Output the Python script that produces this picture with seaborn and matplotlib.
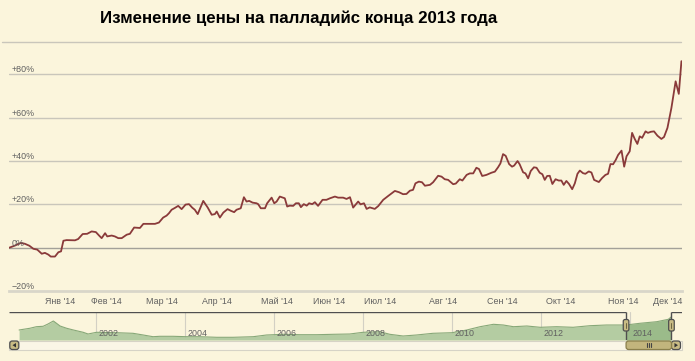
import numpy as np
import pandas as pd
import matplotlib
matplotlib.use("Agg")
import matplotlib.pyplot as plt
import matplotlib.transforms as mtransforms
from matplotlib.patches import FancyBboxPatch, Rectangle, Polygon
from matplotlib.lines import Line2D
import seaborn as sns

# --- data: % change of palladium price since end of 2013 (by trading session) ---
session = [0, 2.2, 4.3, 5.9, 7.6, 9.1, 10.6, 12.3, 13.5, 14.8, 15.7, 17.3, 18.6, 19.6, 20.5, 21.7, 24.9, 26.1, 27.8, 29.5,
           31.2, 32.8, 34.1, 35.0, 36.3, 37.1, 38.8, 40.0, 41.3, 42.6, 44.5, 45.7, 47.3, 49.5, 50.8, 52.7, 55.2, 56.7, 58.3, 59.6,
           60.5, 61.5, 62.8, 64.0, 65.3, 66.8, 68.1, 69.3, 70.3, 71.4, 73.5, 75.2, 76.7, 77.9, 78.6, 79.8, 81.1, 82.7, 84.0, 85.2,
           86.1, 87.7, 88.9, 89.9, 90.9, 92.2, 93.7, 94.3, 95.3, 96.9, 97.7, 99.4, 100.4, 101.3, 102.5, 104.4, 105.3, 106.3, 107.6, 108.6,
           109.7, 110.5, 111.6, 112.7, 113.6, 114.8, 115.8, 117.0, 118.7, 120.2, 121.5, 123.4, 124.6, 126.5, 127.8, 129.1, 130.3, 132.2, 133.1, 134.4,
           135.4, 136.6, 138.5, 139.8, 141.7, 143.6, 146.1, 147.7, 149.2, 150.5, 151.8, 153.0, 153.9, 155.2, 156.4, 157.5, 159.4, 160.6, 162.5, 163.8,
           165.0, 166.3, 168.2, 169.2, 170.7, 171.7, 173.3, 174.5, 175.8, 177.0, 178.0, 179.2, 180.8, 182.7, 184.0, 185.2, 186.1, 187.1, 188.1, 189.4,
           190.5, 191.3, 192.6, 193.4, 194.7, 195.6, 196.6, 197.6, 198.8, 199.8, 201.0, 202.0, 202.9, 203.8, 204.8, 205.8, 207.0, 208.2, 209.2, 210.1,
           211.1, 212.1, 213.3, 214.3, 215.3, 216.2, 217.4, 218.3, 219.6, 220.6, 221.6, 223.4, 224.6, 225.9, 226.9, 227.8, 228.8, 229.8, 230.7, 232.0,
           233.0, 233.9, 235.1, 236.0, 237.0, 238.0, 238.9, 239.8, 241.1, 242.0, 243.1, 244.3, 245.6, 247.1, 248.1, 249.4, 250.9, 252.5, 253.7, 254.7]
change = [0.0, 1.0, 2.2, 1.8, 0.9, -0.5, -0.9, -2.8, -2.4, -3.2, -4.1, -4.1, -2.1, -1.7, 3.2, 3.5, 3.4, 4.0, 6.3, 6.4,
          7.5, 7.2, 5.5, 4.4, 6.7, 5.2, 5.6, 5.2, 4.4, 4.4, 6.0, 6.4, 9.3, 9.1, 11.0, 11.0, 11.0, 11.6, 13.9, 14.8,
          15.9, 17.5, 18.4, 19.3, 17.8, 19.9, 20.1, 18.5, 17.5, 15.5, 21.6, 18.5, 15.2, 15.5, 16.7, 13.9, 16.2, 17.8, 17.0, 16.4,
          17.5, 18.2, 23.3, 21.3, 21.6, 20.8, 20.5, 20.1, 18.2, 18.2, 20.5, 23.1, 20.5, 21.3, 23.6, 22.8, 19.0, 19.4, 19.3, 20.5,
          20.5, 18.7, 20.1, 19.4, 20.5, 20.1, 21.0, 19.3, 22.1, 22.1, 22.8, 23.6, 23.1, 23.1, 22.5, 23.3, 18.5, 21.3, 20.0, 20.5,
          17.9, 18.6, 17.9, 19.2, 22.1, 23.9, 26.2, 25.6, 24.7, 24.8, 26.3, 26.7, 29.7, 30.5, 30.2, 28.6, 29.0, 30.2, 33.2, 32.8,
          31.6, 31.3, 29.3, 29.6, 31.6, 31.0, 33.6, 34.3, 34.3, 36.9, 36.3, 33.1, 33.6, 34.6, 35.1, 37.1, 38.9, 43.2, 42.4, 38.6,
          37.4, 37.9, 40.0, 38.5, 34.8, 34.3, 32.0, 35.4, 37.1, 36.9, 34.6, 33.9, 31.3, 33.1, 33.2, 29.4, 31.6, 31.0, 31.0, 29.0,
          30.8, 29.4, 27.0, 29.7, 34.1, 35.6, 34.4, 34.1, 35.2, 34.7, 31.3, 30.3, 32.1, 33.6, 34.1, 38.6, 38.5, 40.5, 42.8, 44.8,
          37.4, 42.2, 44.5, 53.0, 50.2, 47.9, 51.4, 50.7, 53.7, 53.0, 53.5, 53.7, 51.7, 50.2, 51.1, 55.3, 64.5, 76.8, 71.0, 86.1]

month_pos = [19.2, 36.9, 58.0, 78.6, 101.3, 121.1, 140.7, 164.4, 186.9, 208.9, 232.6, 252.2]
month_labels = ["Янв '14", "Фев '14", "Мар '14", "Апр '14", "Май '14", "Июн '14",
                "Июл '14", "Авг '14", "Сен '14", "Окт '14", "Ноя '14", "Дек '14"]
y_ticks = [-20, 0, 20, 40, 60, 80]
y_labels = ["\u221220%", "0%", "+20%", "+40%", "+60%", "+80%"]

# navigator (long history, relative level)
nav_year = [2000.28, 2000.52, 2000.67, 2000.82, 2000.93, 2001.05, 2001.12, 2001.20, 2001.35, 2001.50,
            2001.72, 2001.83, 2002.02, 2002.47, 2002.84, 2003.07, 2003.29, 2003.44, 2003.74, 2004.04,
            2004.34, 2004.72, 2005.09, 2005.54, 2005.84, 2006.22, 2006.59, 2006.97, 2007.34, 2007.71,
            2008.01, 2008.39, 2008.61, 2008.91, 2009.21, 2009.58, 2010.01, 2010.34, 2010.64, 2010.94,
            2011.16, 2011.39, 2011.69, 2011.99, 2012.36, 2012.73, 2013.11, 2013.48, 2013.92, 2014.23,
            2014.61, 2014.87, 2014.94]
nav_level = [10.0, 11.7, 13.3, 13.7, 16.0, 19.0, 16.7, 14.0, 11.7, 10.0,
             7.7, 6.0, 7.7, 7.3, 6.7, 5.0, 3.3, 3.7, 3.7, 3.3,
             3.3, 2.7, 2.7, 3.3, 5.0, 5.7, 5.3, 5.3, 5.7, 6.0,
             7.7, 8.3, 5.7, 4.0, 5.0, 6.7, 7.3, 10.0, 13.3, 15.7,
             15.0, 13.3, 14.0, 12.7, 13.3, 12.7, 14.3, 15.0, 15.0, 16.7,
             18.3, 20.7, 23.3]
nav_ticks = [2002, 2004, 2006, 2008, 2010, 2012, 2014]
sel_start, sel_end = 2013.92, 2014.94

title = "Изменение цены на палладийс конца 2013 года"

sns.set_style("white")
plt.rcParams["font.family"] = ["Liberation Sans", "DejaVu Sans"]

BG = "#fbf5dc"
W, H = 695, 361
fig = plt.figure(figsize=(W / 100, H / 100), dpi=100)
fig.patch.set_facecolor(BG)


def box(x0, y0, x1, y1):
    return [x0 / W, 1 - y1 / H, (x1 - x0) / W, (y1 - y0) / H]


# --- main chart ---
ax = fig.add_axes(box(9.3, 48.4, 681.7, 291))
ax.set_facecolor("none")
df = pd.DataFrame({"session": session, "change": change})
sns.lineplot(data=df, x="session", y="change", ax=ax, color="#8a3a3a", lw=1.3, zorder=3)
ax.set_xlim(0, 254.8)
ax.set_ylim(-20, 92)
for v in y_ticks[1:]:
    ax.axhline(v, color="#a3a199" if v == 0 else "#c9c6bb", lw=1, zorder=1)
for s in ["top", "left", "right"]:
    ax.spines[s].set_visible(False)
ax.spines["bottom"].set_color("#d9d6c9")
ax.spines["bottom"].set_linewidth(2)
ax.set_yticks([])
ax.set_xticks(month_pos, month_labels)
ax.tick_params(axis="x", length=4, width=0.8, color="#c9c6bb", labelsize=6.4,
               labelcolor="#606060", pad=0.5)
# last label is pushed left so it stays inside the chart
last = ax.get_xticklabels()[-1]
last.set_transform(last.get_transform() + mtransforms.ScaledTranslation(-7 / 100, 0, fig.dpi_scale_trans))
ax.set_xlabel("")
ax.set_ylabel("")
trans = mtransforms.blended_transform_factory(ax.transAxes, ax.transData)
for v, lab in zip(y_ticks, y_labels):
    ax.text(0.003, v, lab, transform=trans, ha="left", va="bottom",
            fontsize=6.4, color="#606060")

fig.text(299 / W, 1 - 18 / H, title, ha="center", va="center",
         fontsize=12.2, fontweight="bold", color="black")

# --- navigator ---
nav = fig.add_axes(box(9.3, 311.7, 681.7, 340))
nav.set_facecolor("none")
nav_df = pd.DataFrame({"year": nav_year, "level": nav_level})
yr = np.array(nav_year)
lv = np.array(nav_level)
nav.fill_between(yr, lv, color="#b4cca2", lw=0, zorder=2)
nav.fill_between(yr, lv, where=(yr >= sel_start) & (yr <= sel_end), color="#9bbb8a", lw=0, zorder=2)
sns.lineplot(data=nav_df, x="year", y="level", ax=nav, color="#87a878", lw=0.8, zorder=3)
nav.set_xlim(2000.06, 2015.17)
nav.set_ylim(0, 28.3)
nav.set_xticks(nav_ticks)
nav.set_yticks([])
nav.tick_params(axis="x", length=0, labelbottom=False)
nav.grid(axis="x", color="#d3d0c4", lw=0.8, zorder=1)
nav.grid(axis="y", visible=False)
for s in nav.spines.values():
    s.set_visible(False)
nav.set_xlabel("")
nav.set_ylabel("")
for y in nav_ticks:
    nav.annotate(str(y), (y, 0), xytext=(2, 1.5), textcoords="offset points",
                 ha="left", va="bottom", fontsize=6.4, color="#606060", zorder=4)
top = 28.3
outline = dict(color="#4f4f4f", lw=1, zorder=5, solid_capstyle="butt")
nav.plot([2000.06, sel_start], [top, top], **outline)
nav.plot([sel_end, 2015.17], [top, top], **outline)
nav.plot([sel_start, sel_start], [0, top], **outline)
nav.plot([sel_end, sel_end], [0, top], **outline)

# --- chrome in pixel coordinates ---
ov = fig.add_axes([0, 0, 1, 1])
ov.set_xlim(0, W)
ov.set_ylim(H, 0)
ov.axis("off")
ov.patch.set_alpha(0)

ov.add_line(Line2D([2, 681], [41.5, 41.5], color="#c9c6bb", lw=1))

hx0 = nav.transData.transform((sel_start, 0))[0]
hx1 = nav.transData.transform((sel_end, 0))[0]

# scrollbar track
ov.add_patch(Rectangle((9.3, 340.5), 672.4, 9.5, fc="#faf6e6", ec="#d6d3c6", lw=0.8))
tan, dark = "#c8bb84", "#4f4f4f"
for x0 in (9.8, hx1):
    ov.add_patch(FancyBboxPatch((x0, 341), 9, 8.5, boxstyle="round,pad=0,rounding_size=2.5",
                                fc=tan, ec=dark, lw=0.9))
ov.add_patch(Polygon([[16, 343], [16, 347.5], [12.5, 345.2]], closed=True, fc="#333333", ec="none"))
ov.add_patch(Polygon([[hx1 + 3, 343], [hx1 + 3, 347.5], [hx1 + 6.5, 345.2]], closed=True, fc="#333333", ec="none"))
ov.add_patch(FancyBboxPatch((hx0, 341), hx1 - hx0, 8.5, boxstyle="round,pad=0,rounding_size=2.5",
                            fc="#c2b57d", ec="#8a7f4c", lw=0.9))
mid = (hx0 + hx1) / 2
for dx in (-2, 0, 2):
    ov.add_line(Line2D([mid + dx, mid + dx], [343.2, 347.3], color="#444444", lw=0.8))

# navigator handles
for hx in (hx0, hx1):
    ov.add_patch(FancyBboxPatch((hx - 2.8, 319.5), 5.6, 11.5, boxstyle="round,pad=0,rounding_size=1.8",
                                fc=tan, ec=dark, lw=0.9, zorder=6))
    ov.add_line(Line2D([hx, hx], [322.5, 328], color="#6d6440", lw=0.7, zorder=7))

fig.savefig("out.png", dpi=100, facecolor=BG)
